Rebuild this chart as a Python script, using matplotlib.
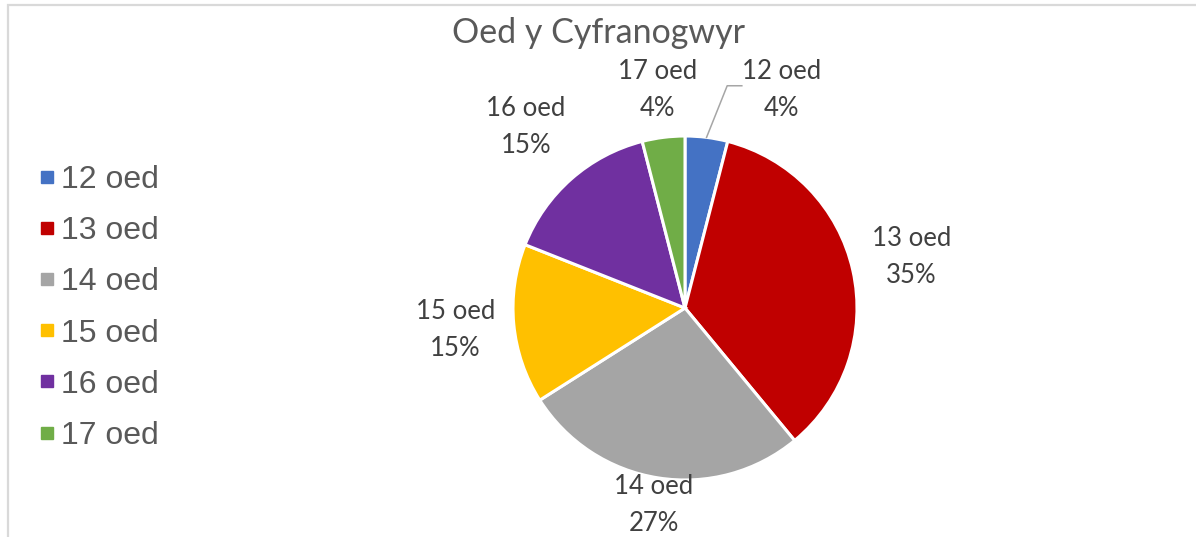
import numpy as np
import matplotlib
matplotlib.use('Agg')
from matplotlib import pyplot as plt
from matplotlib.lines import Line2D
from matplotlib.patches import Rectangle

# data
categories = ['12 oed', '13 oed', '14 oed', '15 oed', '16 oed', '17 oed']
percents = [4, 35, 27, 15, 15, 4]
colors = ['#4472c4', '#c00000', '#a5a5a5', '#ffc000', '#7030a0', '#70ad47']
title = 'Oed y Cyfranogwyr'

# label placement (distance from centre in radii, angle nudge in degrees)
label_dist = [1.385, 1.35, 1.16, 1.34, 1.40, 1.28]
label_nudge = [-16.6, 0, 0, 0, 0, 0]


def main():
    W, H = 1196, 537
    fig = plt.figure(figsize=(W / 100, H / 100), dpi=100)
    ax = fig.add_axes([0, 0, 1, 1])

    cx, cy, R = 685, 308, 172
    wedges, _ = ax.pie(percents, colors=colors, startangle=90, counterclock=False,
                       radius=1, wedgeprops=dict(edgecolor='white', linewidth=2.2))
    ax.set_xlim(-cx / R, (W - cx) / R)
    ax.set_ylim(-(H - cy) / R, cy / R)
    ax.axis('off')

    for i, w in enumerate(wedges):
        mid = (w.theta1 + w.theta2) / 2 + label_nudge[i]
        r = label_dist[i]
        x = r * np.cos(np.radians(mid))
        y = r * np.sin(np.radians(mid))
        ax.text(x, y, categories[i] + '\n' + str(percents[i]) + '%', ha='center', va='center',
                fontsize=18.5, family='Lato', color='#404040', linespacing=1.6)

    # leader line for the small first slice
    w = wedges[0]
    a = np.radians((w.theta1 + w.theta2) / 2)
    px, py = 1.0 * np.cos(a), 1.0 * np.sin(a)
    kx, ky = px + 0.12, py + 0.30
    ax.plot([px, kx, kx + 0.085], [py, ky, ky], color='#a6a6a6', lw=1.1)

    fig.text(0.5, 1 - 33 / H, title, ha='center', va='center', fontsize=24.5,
             family='Lato', color='#595959')

    handles = [Line2D([], [], marker='s', linestyle='none', markersize=8,
                      markerfacecolor=c, markeredgecolor=c) for c in colors]
    fig.legend(handles, categories, loc='center left', bbox_to_anchor=(9 / W, 1 - 308 / H),
               frameon=False, prop={'family': 'Liberation Sans', 'size': 23},
               labelcolor='#595959', handlelength=0.6, handletextpad=0.12, labelspacing=0.66)

    border = Rectangle((8 / W, -0.2), 1.2, 1.2 - 5 / H, transform=fig.transFigure,
                       fill=False, edgecolor='#d9d9d9', linewidth=1.6, clip_on=False)
    fig.patches.append(border)

    fig.savefig('out.png', dpi=100)


if __name__ == '__main__':
    main()
